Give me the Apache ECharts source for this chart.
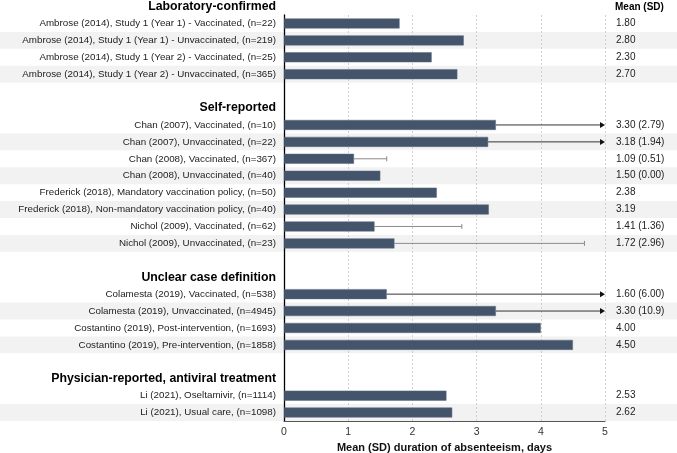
<!DOCTYPE html>
<html>
<head>
<meta charset="utf-8">
<script src="https://cdn.jsdelivr.net/npm/echarts@6/dist/echarts.min.js"></script>
<style>html,body{margin:0;padding:0;background:#fff}#c{width:677px;height:453px}</style>
</head>
<body>
<div id="c"></div>
<script>
// ---- data ----
const groupNames = ['Laboratory-confirmed', 'Self-reported', 'Unclear case definition', 'Physician-reported, antiviral treatment'];
const groupSizes = [4, 8, 4, 2];
const studyLabels = [
  'Ambrose (2014), Study 1 (Year 1) - Vaccinated, (n=22)',
  'Ambrose (2014), Study 1 (Year 1) - Unvaccinated, (n=219)',
  'Ambrose (2014), Study 1 (Year 2) - Vaccinated, (n=25)',
  'Ambrose (2014), Study 1 (Year 2) - Unvaccinated, (n=365)',
  'Chan (2007), Vaccinated, (n=10)',
  'Chan (2007), Unvaccinated, (n=22)',
  'Chan (2008), Vaccinated, (n=367)',
  'Chan (2008), Unvaccinated, (n=40)',
  'Frederick (2018), Mandatory vaccination policy, (n=50)',
  'Frederick (2018), Non-mandatory vaccination policy, (n=40)',
  'Nichol (2009), Vaccinated, (n=62)',
  'Nichol (2009), Unvaccinated, (n=23)',
  'Colamesta (2019), Vaccinated, (n=538)',
  'Colamesta (2019), Unvaccinated, (n=4945)',
  'Costantino (2019), Post-intervention, (n=1693)',
  'Costantino (2019), Pre-intervention, (n=1858)',
  'Li (2021), Oseltamivir, (n=1114)',
  'Li (2021), Usual care, (n=1098)'
];
const means = [1.80, 2.80, 2.30, 2.70, 3.30, 3.18, 1.09, 1.50, 2.38, 3.19, 1.41, 1.72, 1.60, 3.30, 4.00, 4.50, 2.53, 2.62];
const sds   = [null, null, null, null, 2.79, 1.94, 0.51, 0.00, null, null, 1.36, 2.96, 6.00, 10.9, null, null, null, null];
const xTicks = [0, 1, 2, 3, 4, 5];
const xTitle = 'Mean (SD) duration of absenteeism, days';
const colTitle = 'Mean (SD)';

// ---- build rows (first group header is drawn above the plot) ----
const rows = [];
let s = 0;
groupNames.forEach((g, gi) => {
  if (gi > 0) {
    rows.push({ label: '', kind: 'blank' });
    rows.push({ label: g, kind: 'header' });
  }
  for (let k = 0; k < groupSizes[gi]; k++, s++) {
    rows.push({ label: studyLabels[s], kind: 'study', study: s, shade: k % 2 === 1 });
  }
});
const cats = rows.map((r, i) => 'r' + i);
const fmtSd = v => (v >= 10 ? v.toFixed(1) : v.toFixed(2));
const rightText = rows.map(r => r.kind === 'study'
  ? means[r.study].toFixed(2) + (sds[r.study] != null ? ' (' + fmtSd(sds[r.study]) + ')' : '')
  : '');

const barData = rows.map(r => r.kind === 'study' ? means[r.study] : null);
const shadeData = [];
rows.forEach((r, i) => { if (r.shade) shadeData.push([0, i]); });
const errData = [];
rows.forEach((r, i) => {
  if (r.kind === 'study' && sds[r.study] != null) errData.push([means[r.study], i, means[r.study] + sds[r.study]]);
});
const xMax = xTicks[xTicks.length - 1];

const chart = echarts.init(document.getElementById('c'), null, { renderer: 'canvas' });
const FONT = 'Liberation Sans, Arial, sans-serif';

chart.setOption({
  animation: false,
  textStyle: { fontFamily: FONT },
  grid: { left: 284, right: 72, top: 15, bottom: 32, outerBoundsMode: 'none', containLabel: false },
  xAxis: {
    type: 'value', min: 0, max: xMax, interval: 1,
    axisLine: { show: true, lineStyle: { color: '#555', width: 1 } },
    axisTick: { show: false },
    axisLabel: { color: '#333', fontSize: 10.5, margin: 6, fontFamily: FONT },
    splitLine: { show: true, lineStyle: { color: '#cfcfcf', type: [2, 2], width: 1 } },
    name: xTitle, nameLocation: 'middle', nameGap: 19,
    nameTextStyle: { fontWeight: 'bold', fontSize: 11, color: '#111', fontFamily: FONT }
  },
  yAxis: [{
    type: 'category', data: cats, inverse: true,
    axisLine: { show: true, lineStyle: { color: '#000', width: 1.3 } },
    axisTick: { show: false },
    axisLabel: {
      margin: 8, fontFamily: FONT,
      formatter: (v, i) => rows[i].kind === 'header' ? '{h|' + rows[i].label + '}' : '{n|' + rows[i].label + '}',
      rich: {
        h: { fontWeight: 'bold', fontSize: 12.3, color: '#000', fontFamily: FONT },
        n: { fontSize: 9.8, color: '#222', fontFamily: FONT }
      }
    }
  }, {
    type: 'category', data: cats, inverse: true, position: 'right',
    axisLine: { show: false }, axisTick: { show: false },
    axisLabel: {
      margin: 11, align: 'left', fontSize: 10, color: '#222', fontFamily: FONT,
      formatter: (v, i) => rightText[i]
    }
  }],
  graphic: [
    { type: 'text', right: 677 - 276, top: 1, style: { text: groupNames[0], font: 'bold 12.3px ' + FONT, fill: '#000', textAlign: 'right' } },
    { type: 'text', left: 615, top: 2, style: { text: colTitle, font: 'bold 10px ' + FONT, fill: '#000' } }
  ],
  series: [
    {
      type: 'custom', z: -1, silent: true, clip: false,
      data: shadeData,
      renderItem: (params, api) => {
        const c = api.coord([0, api.value(1)]);
        const h = api.size([0, 1])[1];
        return { type: 'rect', shape: { x: 0, y: c[1] - h / 2, width: api.getWidth(), height: h }, style: { fill: '#f2f2f2' } };
      }
    },
    {
      type: 'bar', data: barData, barWidth: 10,
      itemStyle: { color: '#44546a', borderColor: '#5d6b80', borderWidth: 0.5 },
      z: 3
    },
    {
      type: 'custom', z: 4, silent: true, clip: false,
      data: errData,
      renderItem: (params, api) => {
        const m = api.value(0), idx = api.value(1), up = api.value(2);
        const over = up > xMax;
        const p0 = api.coord([m, idx]);
        const p1 = api.coord([Math.min(up, xMax), idx]);
        const children = [];
        if (over) {
          const tipX = p1[0];
          children.push({ type: 'line', shape: { x1: p0[0], y1: p0[1], x2: tipX - 4, y2: p1[1] }, style: { stroke: '#333', lineWidth: 1 } });
          children.push({ type: 'polygon', shape: { points: [[tipX, p1[1]], [tipX - 5, p1[1] - 3], [tipX - 5, p1[1] + 3]] }, style: { fill: '#111' } });
        } else if (up > m) {
          children.push({ type: 'line', shape: { x1: p0[0], y1: p0[1], x2: p1[0], y2: p1[1] }, style: { stroke: '#8a8a8a', lineWidth: 1 } });
          children.push({ type: 'line', shape: { x1: p1[0], y1: p1[1] - 2.5, x2: p1[0], y2: p1[1] + 2.5 }, style: { stroke: '#8a8a8a', lineWidth: 1 } });
        }
        return { type: 'group', children };
      }
    }
  ]
});
</script>
</body>
</html>
